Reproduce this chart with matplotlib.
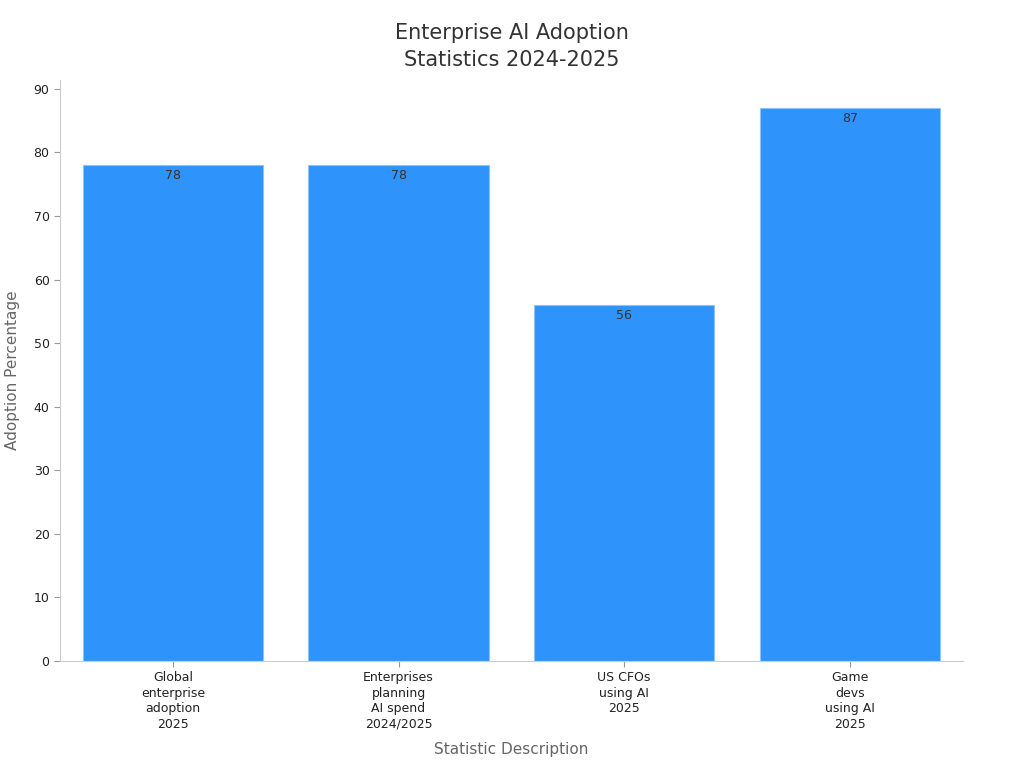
import matplotlib
matplotlib.use("Agg")
import matplotlib.pyplot as plt

# data
categories = [
    "Global\nenterprise\nadoption\n2025",
    "Enterprises\nplanning\nAI spend\n2024/2025",
    "US CFOs\nusing AI\n2025",
    "Game\ndevs\nusing AI\n2025",
]
values = [78, 78, 56, 87]
yticks = [0, 10, 20, 30, 40, 50, 60, 70, 80, 90]

fig = plt.figure(figsize=(10.24, 7.68), dpi=100)
ax = fig.add_axes([0.0586, 0.1393, 0.8815, 0.7565])

xs = range(len(values))
bars = ax.bar(xs, values, width=0.8, color="#2E93FA", edgecolor="#8EC3F7", linewidth=0.8)

for x, v in zip(xs, values):
    ax.text(x, v - 0.6, str(v), ha="center", va="top", fontsize=9, color="#333333")

ax.set_xlim(-0.5, 3.5)
ax.set_ylim(0, 91.4)
ax.set_yticks(yticks)
ax.set_xticks(list(xs))
ax.set_xticklabels(categories, fontsize=9, color="#222222", linespacing=1.25)
ax.tick_params(axis="y", labelsize=9, colors="#222222")
ax.tick_params(axis="both", color="#999999", length=4)

for s in ["top", "right"]:
    ax.spines[s].set_visible(False)
for s in ["left", "bottom"]:
    ax.spines[s].set_color("#cccccc")

ax.set_xlabel("Statistic Description", fontsize=11, color="#666666", labelpad=8)
ax.set_ylabel("Adoption Percentage", fontsize=11, color="#666666", labelpad=10)
fig.suptitle("Enterprise AI Adoption\nStatistics 2024-2025", fontsize=15, color="#333333",
             y=0.97, linespacing=1.45)

fig.savefig("out.png", dpi=100)
